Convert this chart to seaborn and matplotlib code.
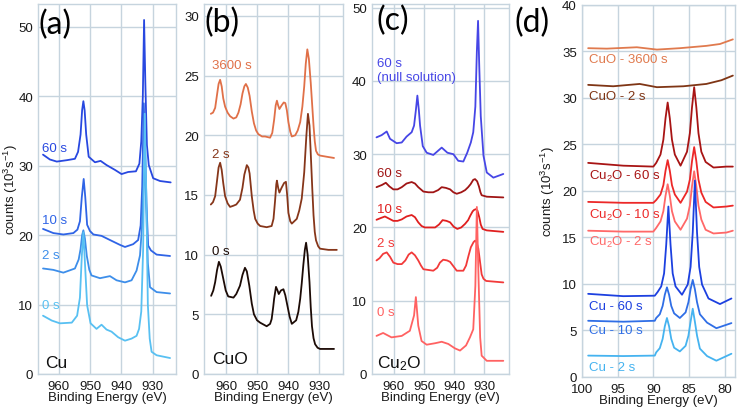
import matplotlib
matplotlib.use("Agg")
import matplotlib.pyplot as plt
import pandas as pd
import seaborn as sns

# ---------------- Panel (a): Cu ----------------
a60_x = [965.0, 962.8, 960.6, 957.4, 954.8, 953.8, 953.0, 952.5, 952.1, 951.7, 951.2, 950.4, 948.4, 946.6, 944.7,
         942.0, 939.9, 937.8, 935.3, 934.2, 933.6, 933.1, 932.7, 932.3, 931.8, 931.2, 929.8, 927.6, 924.2]
a60_y = [31.6, 30.9, 30.6, 30.8, 31.0, 32.0, 34.5, 38.0, 39.3, 38.0, 34.5, 31.3, 30.5, 30.7, 30.1,
         29.4, 28.8, 29.1, 29.2, 30.3, 33.5, 40.0, 51.0, 42.0, 33.0, 30.1, 28.2, 27.8, 27.6]
a10_x = [965.0, 961.7, 958.5, 955.3, 954.0, 953.2, 952.6, 952.0, 951.5, 950.9, 950.0, 948.9, 946.3, 943.6,
         940.4, 938.8, 936.2, 934.6, 933.8, 933.3, 932.8, 932.4, 931.9, 931.4, 930.5, 928.7, 924.4]
a10_y = [20.9, 20.3, 20.1, 20.3, 20.8, 22.0, 25.5, 28.1, 25.5, 21.5, 20.6, 20.1, 19.9, 19.3,
         18.6, 18.3, 18.7, 19.3, 21.4, 27.0, 39.0, 33.0, 24.0, 18.5, 17.8, 17.2, 17.0]
a2_x = [965.0, 961.7, 958.5, 954.8, 953.6, 953.0, 952.5, 952.1, 951.6, 951.0, 950.2, 949.5, 946.8, 943.6,
        941.5, 938.8, 936.7, 935.1, 934.0, 933.4, 932.9, 932.5, 932.0, 931.5, 930.8, 928.7, 924.4]
a2_y = [15.2, 15.0, 14.6, 15.2, 16.5, 18.0, 20.0, 20.7, 19.5, 17.0, 15.0, 14.2, 13.8, 14.1,
        13.5, 13.2, 13.5, 14.9, 17.1, 21.0, 27.0, 30.0, 24.0, 16.0, 12.5, 11.8, 11.6]
a0_x = [965.0, 962.2, 959.6, 955.8, 954.1, 953.2, 952.6, 952.1, 951.6, 950.9, 949.8, 947.9, 946.3, 944.7, 943.1,
        941.0, 938.8, 936.7, 935.1, 934.3, 933.6, 933.0, 932.5, 932.0, 931.5, 930.9, 930.3, 928.7, 924.4]
a0_y = [8.4, 7.7, 7.3, 7.4, 8.4, 11.0, 17.0, 20.4, 16.0, 9.9, 7.3, 6.5, 7.1, 6.4, 6.1,
        5.3, 4.8, 5.1, 5.5, 6.5, 9.0, 18.0, 37.5, 26.0, 10.0, 5.1, 3.2, 2.7, 2.3]

# ---------------- Panel (b): CuO ----------------
b3600_x = [965.0, 964.3, 963.6, 963.0, 962.5, 962.0, 961.5, 961.0, 960.4, 959.6, 958.8, 957.7, 956.8, 956.1,
           955.4, 954.8, 954.2, 953.7, 953.1, 952.5, 951.8, 951.1, 950.4, 949.7, 948.5, 947.5, 945.9, 945.2,
           944.6, 944.1, 943.7, 943.3, 942.9, 942.2, 941.5, 941.0, 940.5, 940.0, 939.4, 938.9, 937.8, 937.0,
           936.2, 935.5, 934.9, 934.4, 933.9, 933.4, 932.8, 932.3, 931.9, 931.5, 931.1, 930.5, 929.8, 927.6,
           925.3]
b3600_y = [21.8, 21.9, 22.3, 23.4, 24.3, 24.65, 24.1, 23.1, 22.4, 21.9, 21.6, 21.4, 21.5, 21.9,
           22.6, 23.5, 24.1, 24.3, 24.0, 23.3, 22.0, 21.0, 20.4, 20.1, 19.9, 19.9, 19.8, 20.2,
           21.3, 22.5, 22.9, 22.5, 22.2, 22.5, 22.75, 22.7, 22.1, 21.1, 20.3, 19.9, 20.0, 20.4,
           21.1, 22.4, 24.1, 26.0, 27.2, 26.4, 24.4, 22.4, 20.8, 19.5, 18.7, 18.4, 18.3, 18.2,
           18.1]
b2_x = [965.0, 964.3, 963.6, 963.0, 962.5, 962.0, 961.5, 961.0, 960.4, 959.6, 958.8, 957.7, 956.8, 955.6,
        954.8, 954.2, 953.4, 952.9, 952.5, 951.8, 951.2, 950.7, 949.9, 949.1, 947.0, 945.4, 944.8, 944.3,
        943.9, 943.7, 943.3, 942.9, 942.2, 941.4, 940.8, 940.4, 940.0, 939.4, 938.9, 937.3, 936.5, 935.7,
        934.9, 934.2, 933.7, 933.2, 932.8, 932.3, 931.9, 931.5, 931.1, 930.4, 929.8, 927.1, 924.4]
b2_y = [14.2, 14.4, 14.9, 16.2, 17.3, 17.7, 17.1, 16.0, 14.9, 14.3, 14.0, 14.1, 14.2, 14.6,
        15.6, 16.7, 17.5, 17.3, 16.8, 14.9, 13.7, 13.0, 12.6, 12.4, 12.3, 12.4, 13.0, 14.5,
        15.9, 16.2, 15.6, 15.2, 15.6, 16.0, 16.1, 15.0, 13.5, 12.8, 12.6, 13.0, 13.7, 14.7,
        16.9, 20.0, 21.8, 20.8, 18.5, 15.5, 13.3, 11.9, 11.2, 10.7, 10.5, 10.4, 10.4]
b0_x = [964.9, 964.2, 963.6, 963.0, 962.4, 961.8, 961.0, 960.2, 959.4, 957.7, 956.8, 955.6, 954.8, 954.0,
        953.4, 952.6, 951.8, 951.1, 950.1, 949.1, 947.0, 945.9, 945.4, 944.9, 944.6, 944.0, 943.5, 943.1,
        942.4, 941.6, 941.0, 940.3, 939.6, 938.9, 937.5, 936.8, 936.2, 935.7, 935.2, 934.7, 934.3, 933.8,
        933.2, 932.8, 932.4, 931.9, 931.4, 930.6, 929.8, 925.3]
b0_y = [6.55, 7.0, 7.7, 8.7, 9.4, 9.0, 8.0, 7.0, 6.5, 6.4, 6.7, 7.4, 8.3, 8.9,
        8.6, 7.4, 5.9, 5.0, 4.5, 4.3, 4.0, 4.2, 4.6, 5.6, 6.3, 7.3, 7.0, 6.7,
        7.0, 7.1, 6.6, 5.7, 4.8, 4.2, 4.5, 5.2, 6.3, 7.6, 9.1, 10.4, 11.0, 10.0,
        7.7, 5.6, 4.0, 3.0, 2.5, 2.2, 2.1, 2.1]

# ---------------- Panel (c): Cu2O ----------------
c60n_x = [965.8, 964.1, 962.4, 961.3, 959.1, 957.4, 955.8, 954.1, 953.3, 952.7, 952.2, 951.7, 951.3, 950.4,
          949.1, 946.9, 944.1, 942.2, 940.2, 938.6, 936.9, 935.6, 934.4, 933.6, 932.9, 932.4, 932.0, 931.6,
          931.1, 930.2, 929.1, 926.9, 923.6]
c60n_y = [32.3, 32.6, 33.1, 32.1, 31.5, 31.6, 32.4, 33.0, 33.9, 36.0, 38.0, 36.0, 33.9, 31.1,
          30.2, 29.9, 30.9, 30.2, 30.0, 29.1, 29.0, 30.2, 31.6, 33.0, 36.5, 44.0, 48.2, 42.0,
          35.2, 29.8, 27.5, 26.8, 27.3]
c60_x = [965.8, 964.0, 962.7, 961.5, 960.2, 958.8, 957.4, 955.8, 954.1, 953.0, 951.9, 950.2, 948.5, 946.9,
         945.3, 944.1, 942.7, 941.3, 940.2, 939.1, 937.6, 936.3, 935.3, 934.5, 933.6, 933.0, 932.3, 931.7,
         931.2, 930.8, 929.1, 923.6]
c60_y = [25.5, 25.8, 26.1, 25.6, 25.2, 25.2, 25.5, 26.0, 26.2, 26.0, 25.5, 24.9, 24.8, 24.8,
         25.1, 25.5, 25.4, 25.2, 24.8, 24.6, 24.8, 25.1, 25.5, 25.9, 26.5, 26.6, 26.3, 25.6,
         24.8, 24.4, 24.2, 24.1]
c10_x = [965.8, 964.3, 963.0, 961.6, 960.2, 958.8, 957.4, 955.8, 954.1, 953.0, 951.9, 950.8, 949.7, 946.3,
         945.0, 943.8, 942.5, 941.3, 940.1, 938.9, 937.6, 936.3, 935.3, 934.6, 933.8, 933.3, 932.7, 932.2,
         931.6, 931.1, 930.5, 929.1, 923.6]
c10_y = [21.05, 21.3, 21.5, 21.2, 20.9, 20.9, 21.1, 21.5, 21.7, 21.4, 20.7, 20.2, 20.0, 20.0,
         20.4, 21.0, 20.9, 20.7, 20.1, 19.8, 20.0, 20.5, 21.0, 21.6, 22.2, 22.4, 22.5, 22.3,
         21.4, 20.4, 19.8, 19.6, 19.4]
c2_x = [965.8, 964.8, 963.6, 962.4, 961.3, 960.2, 958.8, 957.4, 956.2, 955.1, 954.1, 953.0, 951.9, 951.0,
        950.2, 946.9, 945.6, 944.7, 943.6, 942.3, 941.3, 940.2, 939.1, 936.9, 936.0, 935.2, 934.4, 933.5,
        933.0, 932.5, 931.9, 931.4, 930.8, 930.2, 929.3, 923.6]
c2_y = [15.5, 15.8, 16.4, 16.6, 16.0, 15.2, 15.0, 15.0, 15.5, 16.3, 16.6, 16.2, 15.5, 14.8,
        14.3, 14.1, 14.5, 15.2, 15.6, 15.5, 15.3, 14.7, 14.1, 14.1, 14.8, 16.1, 17.3, 18.0,
        18.2, 18.0, 17.1, 15.5, 13.6, 13.0, 12.7, 12.5]
c0_x = [965.8, 963.6, 960.8, 957.4, 954.7, 953.3, 952.7, 951.9, 950.8, 949.1, 946.3, 944.1, 941.9, 939.7,
        938.0, 936.0, 934.7, 933.6, 932.9, 932.4, 931.9, 931.3, 930.8, 929.1, 923.6]
c0_y = [5.2, 5.6, 5.0, 5.2, 5.9, 8.0, 10.5, 6.6, 4.5, 4.0, 4.2, 4.4, 4.1, 3.5,
        3.2, 3.9, 5.0, 6.1, 12.0, 22.8, 14.0, 5.0, 2.5, 1.8, 1.8]

# ---------------- Panel (d): Au 4f ----------------
d_cuo3600_x = [99.1, 96.5, 92.3, 89.5, 86.3, 82.6, 80.7, 78.9]
d_cuo3600_y = [35.35, 35.3, 35.45, 35.2, 35.35, 35.6, 35.8, 36.3]
d_cuo2_x = [99.1, 95.6, 91.9, 89.5, 85.8, 82.6, 80.5, 78.9]
d_cuo2_y = [31.4, 31.25, 31.5, 31.15, 31.25, 31.5, 31.9, 32.4]
d_cu2o_x = [99.1, 94.2, 90.0, 89.6, 89.0, 88.6, 88.3, 88.0, 87.7, 87.4, 87.0, 86.2, 85.3, 84.9, 84.6,
            84.3, 84.0, 83.7, 83.3, 82.7, 81.6, 79.8, 78.9]
d_cu2o60_y = [23.0, 22.7, 22.6, 23.0, 23.9, 25.5, 27.8, 29.5, 27.8, 25.5, 23.9, 22.7, 24.2, 26.2, 29.0,
              31.15, 29.0, 26.2, 24.2, 23.1, 22.5, 22.6, 22.6]
d_cu2o10_y = [18.8, 18.7, 18.7, 19.0, 19.6, 20.6, 22.15, 23.3, 22.15, 20.6, 19.6, 18.7, 19.9, 21.2, 23.2,
              24.7, 23.2, 21.2, 19.8, 18.8, 18.2, 18.3, 18.4]
d_cu2o2_y = [15.7, 15.6, 15.6, 16.0, 16.7, 17.8, 19.45, 20.7, 19.45, 17.8, 16.7, 15.8, 17.0, 18.4, 20.5,
             22.1, 20.5, 18.4, 16.9, 15.8, 15.4, 15.5, 15.7]
d_cu60_x = [99.1, 94.2, 89.8, 89.4, 88.9, 88.5, 88.2, 87.9, 87.6, 87.3, 86.9, 86.0, 85.2, 84.8, 84.5,
            84.2, 83.9, 83.6, 83.2, 82.3, 80.7, 79.1]
d_cu60_y = [8.9, 8.65, 8.7, 9.1, 9.7, 11.1, 14.2, 18.3, 14.2, 11.1, 9.7, 8.8, 9.9, 11.8, 15.5,
            21.1, 15.5, 11.8, 9.9, 8.4, 7.8, 8.4]
d_cu_x = [99.1, 94.2, 89.8, 89.6, 89.1, 88.7, 88.4, 88.1, 87.8, 87.5, 87.1, 86.3, 85.5, 85.1, 84.8,
          84.5, 84.2, 83.9, 83.5, 82.5, 81.2, 79.1]
d_cu10_y = [6.0, 5.9, 6.0, 6.3, 6.7, 7.6, 8.8, 9.6, 8.8, 7.6, 6.8, 6.3, 6.9, 8.0, 9.4,
            10.4, 9.4, 8.0, 6.7, 5.8, 5.2, 5.75]
d_cu2_y = [2.25, 2.2, 2.25, 2.6, 3.05, 4.05, 5.4, 6.3, 5.4, 4.05, 3.1, 2.7, 3.3, 4.4, 5.9,
           7.3, 5.9, 4.4, 3.0, 2.2, 1.7, 2.45]

# labels / colours
a_names = ["60 s", "10 s", "2 s", "0 s"]
a_colors = ["#2848e0", "#2f64e6", "#3d8eea", "#58c0f2"]
b_names = ["3600 s", "2 s", "0 s"]
b_colors = ["#e07048", "#86361a", "#1c0b06"]
c_names = ["60 s (null solution)", "60 s", "10 s", "2 s", "0 s"]
c_colors = ["#4646e6", "#a01515", "#e01f1f", "#f23a3a", "#ff6262"]
d_names = ["CuO - 3600 s", "CuO - 2 s", "Cu$_2$O - 60 s", "Cu$_2$O - 10 s", "Cu$_2$O - 2 s",
           "Cu - 60 s", "Cu - 10 s", "Cu - 2 s"]
d_colors = ["#e07a4e", "#7f3515", "#a81414", "#ec2828", "#ff6868", "#1c40e0", "#2f6ee6", "#45b3f0"]


def frame(names, xs, ys):
    rows = []
    for n, x, y in zip(names, xs, ys):
        rows.append(pd.DataFrame({"be": x, "counts": y, "series": n}))
    return pd.concat(rows, ignore_index=True)


df_a = frame(a_names, [a60_x, a10_x, a2_x, a0_x], [a60_y, a10_y, a2_y, a0_y])
df_b = frame(b_names, [b3600_x, b2_x, b0_x], [b3600_y, b2_y, b0_y])
df_c = frame(c_names, [c60n_x, c60_x, c10_x, c2_x, c0_x], [c60n_y, c60_y, c10_y, c2_y, c0_y])
df_d = frame(d_names,
             [d_cuo3600_x, d_cuo2_x, d_cu2o_x, d_cu2o_x, d_cu2o_x, d_cu60_x, d_cu_x, d_cu_x],
             [d_cuo3600_y, d_cuo2_y, d_cu2o60_y, d_cu2o10_y, d_cu2o2_y, d_cu60_y, d_cu10_y, d_cu2_y])

sns.set_theme(style="white")
plt.rcParams["font.family"] = ["Liberation Sans", "DejaVu Sans"]
plt.rcParams["mathtext.fontset"] = "custom"
plt.rcParams["mathtext.rm"] = "Liberation Sans"
plt.rcParams["mathtext.it"] = "Liberation Sans:italic"
plt.rcParams["mathtext.bf"] = "Liberation Sans:bold"

W, H = 741, 410
fig = plt.figure(figsize=(W / 100, H / 100), dpi=100)


def px_axes(l, r, t, b):
    return fig.add_axes([l / W, 1 - b / H, (r - l) / W, (b - t) / H])


GRID = "#c6d4de"
FS = 9.5


def draw(ax, df, names, colors):
    sns.lineplot(data=df, x="be", y="counts", hue="series", hue_order=names,
                 palette=dict(zip(names, colors)), sort=False, estimator=None,
                 legend=False, linewidth=1.3, ax=ax)


def style(ax, xlim, ylim, xticks, yticks, ylabel=False, yl_x=-0.12):
    ax.set_xlim(*xlim)
    ax.set_ylim(*ylim)
    ax.set_xticks(xticks)
    ax.set_yticks(yticks)
    ax.grid(True, color=GRID, lw=1.0)
    ax.set_axisbelow(True)
    for s in ax.spines.values():
        s.set_color(GRID)
        s.set_linewidth(1.0)
    ax.tick_params(axis="both", length=0, labelsize=FS, colors="#1a1a1a")
    ax.tick_params(axis="y", pad=3.5)
    ax.tick_params(axis="x", pad=4.5)
    ax.set_xlabel("Binding Energy (eV)", fontsize=FS, color="#1a1a1a")
    ax.xaxis.set_label_coords(0.5, -0.047)
    if ylabel:
        ax.set_ylabel("counts (10$^3$s$^{-1}$)", fontsize=FS, color="#1a1a1a")
        ax.yaxis.set_label_coords(yl_x, 0.5)
    else:
        ax.set_ylabel("")


# (a)
ax_a = px_axes(38, 176, 5, 375)
draw(ax_a, df_a, a_names, a_colors)
style(ax_a, (966.6, 922.5), (0, 53.3), [960, 950, 940, 930], [0, 10, 20, 30, 40, 50], ylabel=True, yl_x=-0.132)
for n, c, yy in zip(a_names, a_colors, [32.6, 22.2, 17.1, 10.0]):
    ax_a.text(965.3, yy, n, color=c, fontsize=FS, va="center", ha="left")
ax_a.text(964.4, 1.6, "Cu", color="#111111", fontsize=12.5, va="center", ha="left")

# (b)
ax_b = px_axes(204, 342.7, 5, 375)
draw(ax_b, df_b, b_names, b_colors)
style(ax_b, (967.2, 922.5), (0, 31.0), [960, 950, 940, 930], [0, 5, 10, 15, 20, 25, 30])
for n, c, yy in zip(b_names, b_colors, [25.9, 18.4, 10.3]):
    ax_b.text(964.6, yy, n, color=c, fontsize=FS, va="center", ha="left")
ax_b.text(964.7, 1.3, "CuO", color="#111111", fontsize=12.5, va="center", ha="left")

# (c)
ax_c = px_axes(371.7, 509, 5, 375)
draw(ax_c, df_c, c_names, c_colors)
style(ax_c, (967.4, 921.7), (0, 50.5), [960, 950, 940, 930], [0, 10, 20, 30, 40, 50])
ax_c.text(965.6, 42.5, "60 s", color=c_colors[0], fontsize=FS, va="center", ha="left")
ax_c.text(965.6, 40.6, "(null solution)", color=c_colors[0], fontsize=FS, va="center", ha="left")
for n, c, yy in zip(c_names[1:], c_colors[1:], [27.5, 22.5, 17.9, 8.4]):
    ax_c.text(965.6, yy, n, color=c, fontsize=FS, va="center", ha="left")
ax_c.text(965.6, 1.6, "Cu$_2$O", color="#111111", fontsize=12.5, va="center", ha="left")

# (d)
ax_d = px_axes(581.7, 735, 6, 377.5)
draw(ax_d, df_d, d_names, d_colors)
style(ax_d, (100, 78.6), (0, 40), [100, 95, 90, 85, 80], [0, 5, 10, 15, 20, 25, 30, 35, 40], ylabel=True,
      yl_x=-0.158)
for n, c, yy in zip(d_names, d_colors, [34.2, 30.2, 21.6, 17.5, 14.5, 7.6, 5.05, 1.0]):
    ax_d.text(99.0, yy, n, color=c, fontsize=FS, va="center", ha="left")

# panel letters
for lab, x, y in [("(a)", 39, 10), ("(b)", 204, 8), ("(c)", 376, 6), ("(d)", 515, 8)]:
    fig.text(x / W, 1 - y / H, lab, fontsize=23, va="top", ha="left", color="#000000",
             family=["Lato", "DejaVu Sans"])

fig.savefig("out.png", dpi=100)
